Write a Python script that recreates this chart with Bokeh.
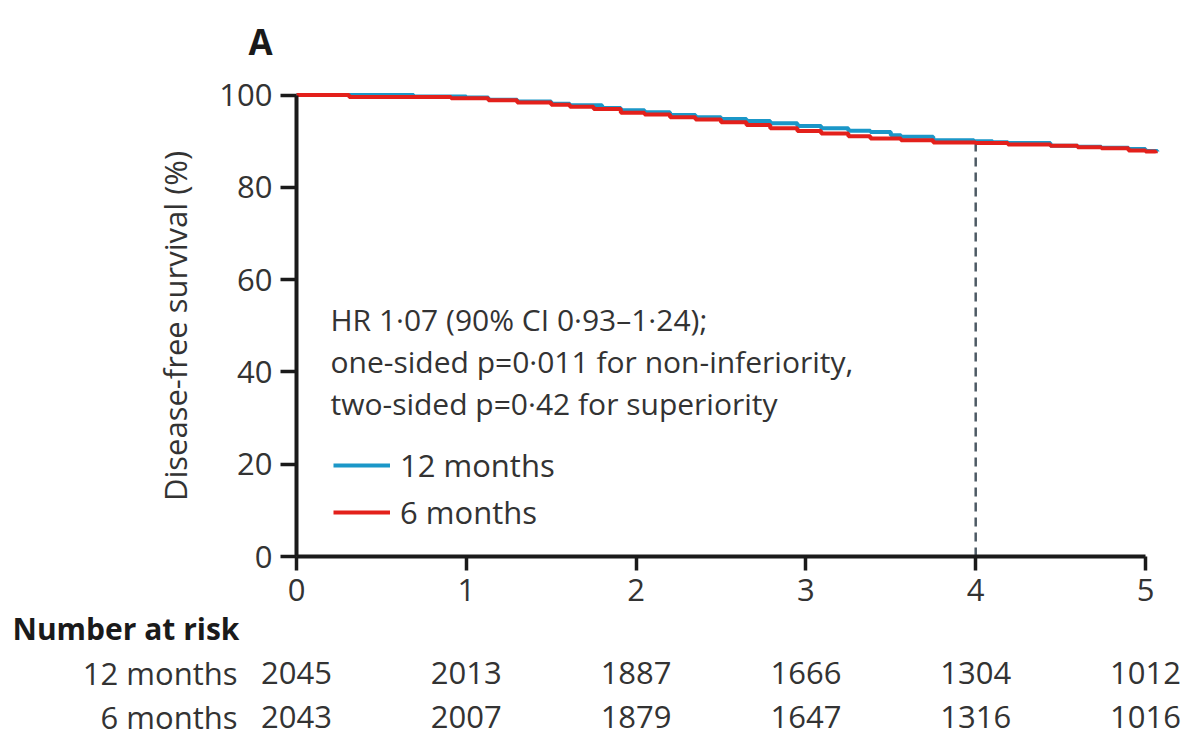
import numpy as np
from bokeh.plotting import figure
from bokeh.models import Range1d, FixedTicker, Label, Legend, LegendItem
from bokeh.core.properties import value
from bokeh.embed import file_html
from bokeh.resources import INLINE

# ---------------- data ----------------
# Kaplan-Meier steps (years, % disease-free)
t_12 = [0, 0.69, 1.0, 1.13, 1.3, 1.5, 1.61, 1.8, 1.91, 2.05, 2.2, 2.35, 2.5, 2.65,
        2.79, 2.95, 3.09, 3.25, 3.38, 3.5, 3.56, 3.75, 3.99, 4.1, 4.19, 4.44, 4.6,
        4.74, 4.9, 5.0, 5.07]
s_12 = [100, 99.7, 99.5, 99.0, 98.6, 98.1, 97.8, 97.2, 96.7, 96.3, 95.7, 95.2, 94.8,
        94.4, 93.9, 93.3, 92.8, 92.3, 92.0, 91.3, 91.0, 90.2, 90.0, 89.8, 89.6, 89.0,
        88.8, 88.6, 88.3, 87.9, 87.8]
t_6 = [0, 0.31, 0.91, 1.13, 1.3, 1.5, 1.61, 1.75, 1.91, 2.05, 2.2, 2.35, 2.5, 2.65,
       2.79, 2.95, 3.09, 3.25, 3.38, 3.56, 3.75, 4.0, 4.19, 4.44, 4.6, 4.74, 4.9,
       5.0, 5.06]
s_6 = [100, 99.6, 99.3, 98.9, 98.4, 97.9, 97.5, 97.0, 96.2, 95.8, 95.2, 94.7, 94.1,
       93.5, 92.8, 92.2, 91.7, 91.1, 90.6, 90.2, 89.7, 89.6, 89.3, 89.0, 88.7, 88.5,
       88.0, 87.8, 87.4]

x_ticks = [0, 1, 2, 3, 4, 5]
y_ticks = [0, 20, 40, 60, 80, 100]
risk_times = [0, 1, 2, 3, 4, 5]
risk_12 = ["2045", "2013", "1887", "1666", "1304", "1012"]
risk_6 = ["2043", "2007", "1879", "1647", "1316", "1016"]
group_names = ["12 months", "6 months"]
landmark = 4

annotation_lines = ["HR 1·07 (90% CI 0·93–1·24);",
                    "one-sided p=0·011 for non-inferiority,",
                    "two-sided p=0·42 for superiority"]

# ---------------- layout (pixels) ----------------
W, H = 1184, 742
ORIGIN_X, ORIGIN_Y = 296, 556      # canvas pixel of (0, 0)
PX_PER_YEAR = 169.8
PX_PER_PCT = 4.614


def dx(px):   # canvas x pixel -> data x
    return (px - ORIGIN_X) / PX_PER_YEAR


def dy(py):   # canvas y pixel -> data y
    return (ORIGIN_Y - py) / PX_PER_PCT


FONT = "Open Sans"
TXT = "#333333"
AX = "#1a1a1a"
BLUE = "#1b97c8"
RED = "#e3201b"

p = figure(width=W, height=H, x_range=Range1d(dx(0), dx(W)), y_range=Range1d(dy(H), dy(0)),
           output_backend="svg", toolbar_location=None,
           min_border_left=0, min_border_right=0, min_border_top=0, min_border_bottom=0)
p.title.visible = False
p.outline_line_color = None
p.grid.visible = False
p.background_fill_color = "white"
p.border_fill_color = "white"

for ax in (p.xaxis[0], p.yaxis[0]):
    ax.fixed_location = 0
    ax.axis_line_width = 4
    ax.axis_line_color = AX
    ax.major_tick_line_width = 3.5
    ax.major_tick_line_color = AX
    ax.major_tick_in = 0
    ax.minor_tick_line_color = None
    ax.major_label_text_font = FONT
    ax.major_label_text_font_size = "31px"
    ax.major_label_text_color = TXT

p.xaxis.ticker = FixedTicker(ticks=x_ticks)
p.xaxis.bounds = (0, 5)
p.xaxis.major_tick_out = 14
p.xaxis.major_label_standoff = 8

p.yaxis.ticker = FixedTicker(ticks=y_ticks)
p.yaxis.bounds = (0, 100)
p.yaxis.major_tick_out = 16
p.yaxis.major_label_standoff = 8
p.yaxis.axis_label = "Disease-free survival (%)"
p.yaxis.axis_label_text_font = FONT
p.yaxis.axis_label_text_font_size = "31px"
p.yaxis.axis_label_text_font_style = "normal"
p.yaxis.axis_label_text_color = TXT
p.yaxis.axis_label_standoff = 20

# landmark dashed line
idx = np.searchsorted(t_12, landmark, side="right") - 1
p.segment(x0=[landmark], y0=[0], x1=[landmark], y1=[s_12[idx]],
          line_color="#4d5a64", line_width=2.5, line_dash="9 6")

r12 = p.step(t_12, s_12, mode="after", line_color=BLUE, line_width=4)
r6 = p.step(t_6, s_6, mode="after", line_color=RED, line_width=4)

legend = Legend(items=[LegendItem(label=group_names[0], renderers=[r12]),
                       LegendItem(label=group_names[1], renderers=[r6])],
                location=(333, H - 533), orientation="vertical")
legend.border_line_color = None
legend.background_fill_alpha = 0
legend.padding = 0
legend.margin = 0
legend.spacing = 5
legend.glyph_width = 57
legend.glyph_height = 40
legend.label_height = 40
legend.label_standoff = 10
legend.label_text_font = FONT
legend.label_text_font_size = "31px"
legend.label_text_color = TXT
p.add_layout(legend, "center")

for line, py in zip(annotation_lines, [319, 361, 403]):
    p.add_layout(Label(x=dx(330), y=dy(py), text=line, text_font=FONT,
                       text_font_size="30px", text_color=TXT,
                       text_baseline="alphabetic", text_align="left"))

# panel letter
p.add_layout(Label(x=dx(248), y=dy(41), text="A", text_font=FONT, text_font_size="35px",
                   text_font_style="bold", text_color="#1a1a1a",
                   text_baseline="alphabetic", text_align="left"))

# number at risk table
head_y = dy(628)
row_ys = [dy(672), dy(716)]
p.text(x=[dx(12)], y=[head_y], text=["Number at risk"], text_font=value(FONT),
       text_font_size="30px", text_font_style="bold", text_color="#1a1a1a",
       text_baseline="middle", text_align="left")
p.text(x=[dx(237)] * 2, y=row_ys, text=group_names, text_font=value(FONT),
       text_font_size="31px", text_color=TXT, text_baseline="middle", text_align="right")
for counts, ry in zip((risk_12, risk_6), row_ys):
    p.text(x=risk_times, y=[ry] * len(risk_times), text=counts, text_font=value(FONT),
           text_font_size="31px", text_color=TXT, text_baseline="middle",
           text_align="center")

open("out.html", "w").write(file_html(p, INLINE))
